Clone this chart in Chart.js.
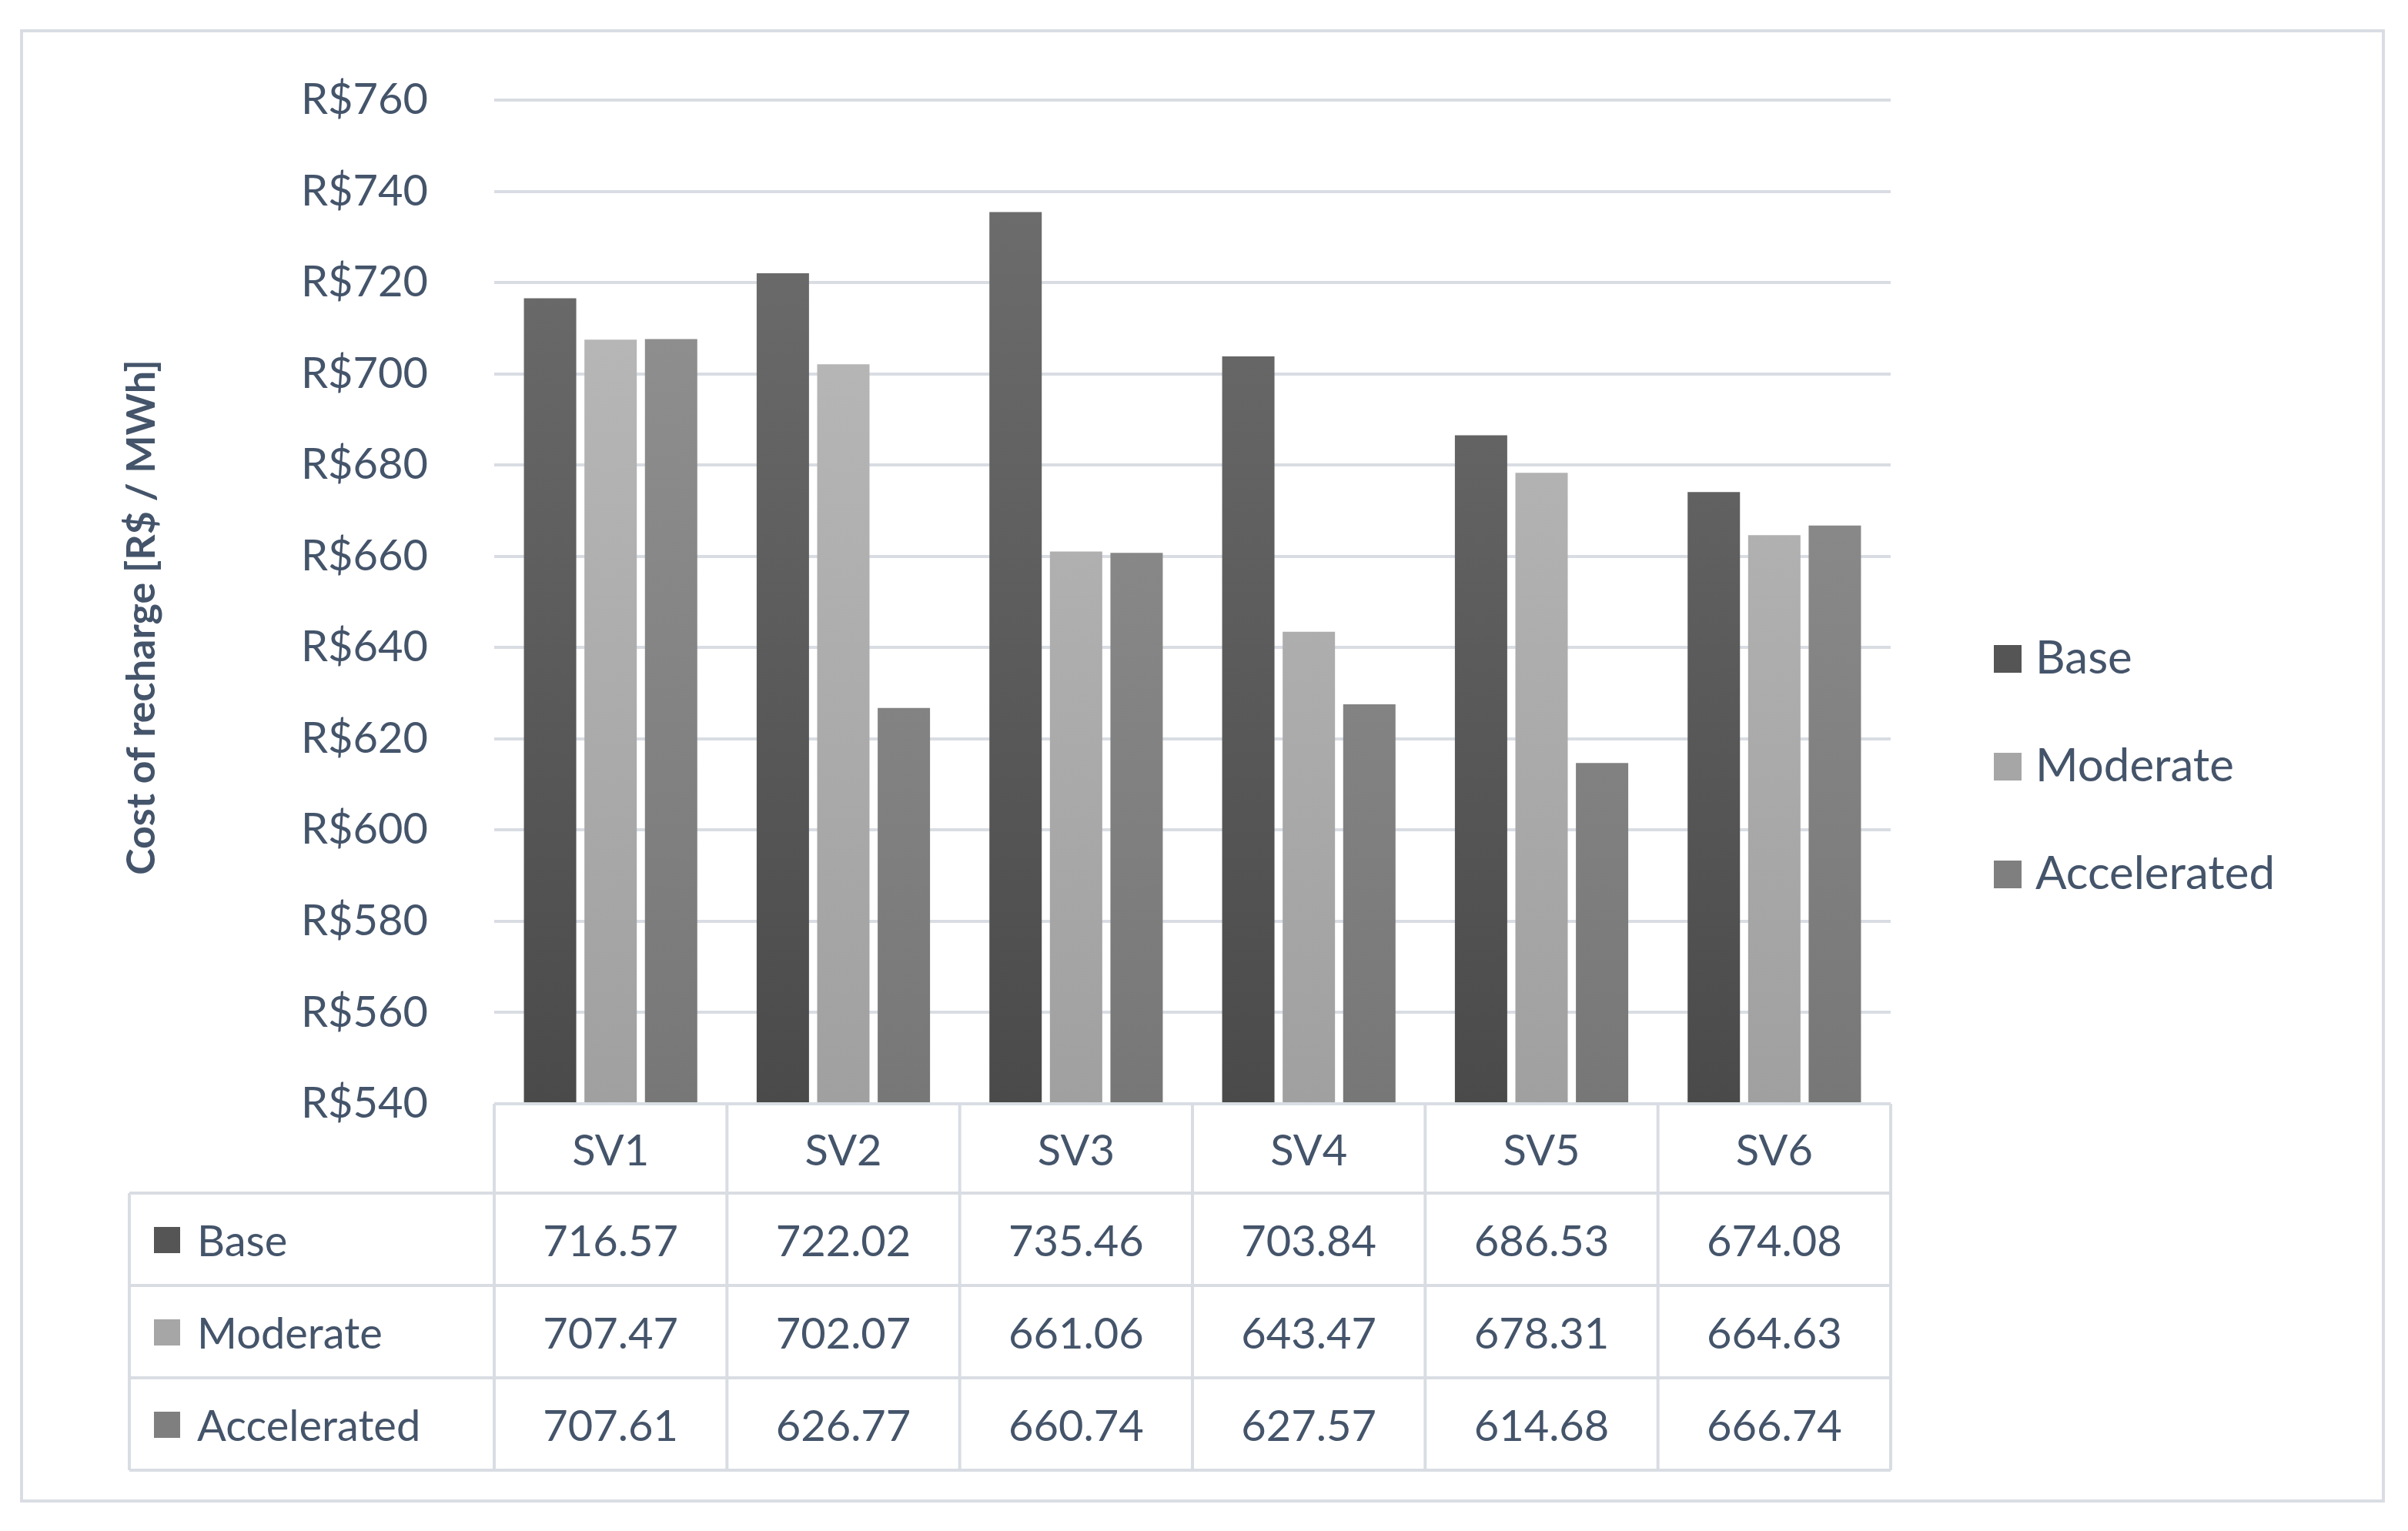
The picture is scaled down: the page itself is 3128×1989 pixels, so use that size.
<!DOCTYPE html>
<html><head><meta charset="utf-8">
<script src="https://cdn.jsdelivr.net/npm/chart.js@4"></script>
<style>html,body{margin:0;padding:0;background:#fff}canvas{display:block}</style>
</head><body>
<canvas id="c" width="3128" height="1989" style="width:3128px;height:1989px"></canvas>
<script>
const categories = ['SV1','SV2','SV3','SV4','SV5','SV6'];
const seriesNames = ['Base','Moderate','Accelerated'];
const baseVals = [716.57,722.02,735.46,703.84,686.53,674.08];
const moderateVals = [707.47,702.07,661.06,643.47,678.31,664.63];
const acceleratedVals = [707.61,626.77,660.74,627.57,614.68,666.74];
const yTicks = [540,560,580,600,620,640,660,680,700,720,740,760];

const FONT = 'Lato, "Open Sans", sans-serif';
const TXT = '#44546A';
const GRID = '#d9dde3';
const cols = [['#707070','#4a4a4a'],['#bdbdbd','#a0a0a0'],['#959595','#777777']];
const solid = ['#555555','#a6a6a6','#7f7f7f'];
function grad(i){return ctx=>{const a=ctx.chart.chartArea;if(!a)return solid[i];
 const g=ctx.chart.ctx.createLinearGradient(0,a.top,0,a.bottom);g.addColorStop(0,cols[i][0]);g.addColorStop(1,cols[i][1]);return g;};}

const dataSets=[baseVals,moderateVals,acceleratedVals];
const deco={id:'deco',afterDraw(chart){
 const c=chart.ctx,a=chart.chartArea,xs=chart.scales.x;
 const cw=(a.right-a.left)/categories.length;
 c.save();
 // outer border
 c.strokeStyle=GRID;c.lineWidth=4;c.strokeRect(28,40,3068,1910);
 // table
 const rowY=[a.bottom,1550,1670,1790,1910];
 c.strokeStyle=GRID;c.lineWidth=4;
 for(let i=0;i<=categories.length;i++){const x=a.left+i*cw;c.beginPath();c.moveTo(x,a.bottom);c.lineTo(x,1910);c.stroke();}
 c.beginPath();c.moveTo(168,1550);c.lineTo(168,1910);c.stroke();
 c.beginPath();c.moveTo(a.left,a.bottom);c.lineTo(a.right,a.bottom);c.stroke();
 for(let r=1;r<rowY.length;r++){c.beginPath();c.moveTo(168,rowY[r]);c.lineTo(a.right,rowY[r]);c.stroke();}
 c.fillStyle=TXT;c.textAlign='center';c.textBaseline='middle';c.font='56px '+FONT;
 categories.forEach((s,i)=>c.fillText(s,xs.getPixelForValue(i),(rowY[0]+rowY[1])/2+4));
 for(let r=0;r<3;r++){const y=(rowY[r+1]+rowY[r+2])/2+4;
  c.textAlign='center';c.fillStyle=TXT;
  dataSets[r].forEach((v,i)=>c.fillText(v.toFixed(2),xs.getPixelForValue(i),y));
  c.fillStyle=solid[r];c.fillRect(200,y-20,34,34);
  c.fillStyle=TXT;c.textAlign='left';c.fillText(seriesNames[r],256,y);
 }
 // legend
 c.font='60px '+FONT;c.textAlign='left';
 seriesNames.forEach((s,r)=>{const y=856+r*140;c.fillStyle=solid[r];c.fillRect(2590,y-18,36,36);c.fillStyle=TXT;c.fillText(s,2644,y);});
 // y title
 c.translate(184,(a.top+a.bottom)/2+20);c.rotate(-Math.PI/2);c.font='bold 52px '+FONT;c.textAlign='center';c.fillStyle=TXT;
 c.fillText('Cost of recharge [R$ / MWh]',0,0);
 c.restore();
}};

new Chart(document.getElementById('c'),{
 type:'bar',
 data:{labels:categories,datasets:dataSets.map((d,i)=>({label:seriesNames[i],data:d,backgroundColor:grad(i),borderWidth:0}))},
 options:{responsive:false,animation:false,devicePixelRatio:1,
  categoryPercentage:0.78,barPercentage:0.865,
  layout:{padding:{top:130,bottom:555,right:672,left:0}},
  plugins:{legend:{display:false},tooltip:{enabled:false}},
  scales:{
   x:{display:false},
   y:{min:540,max:760,afterFit(s){s.width=642;},
     afterBuildTicks(s){s.ticks=yTicks.map(v=>({value:v}));},
     border:{display:false},grid:{color:GRID,lineWidth:4,drawTicks:false},
     ticks:{padding:86,color:TXT,font:{family:FONT,size:56},callback:v=>'R$'+v}}
  }},
 plugins:[deco]
});
</script></body></html>
